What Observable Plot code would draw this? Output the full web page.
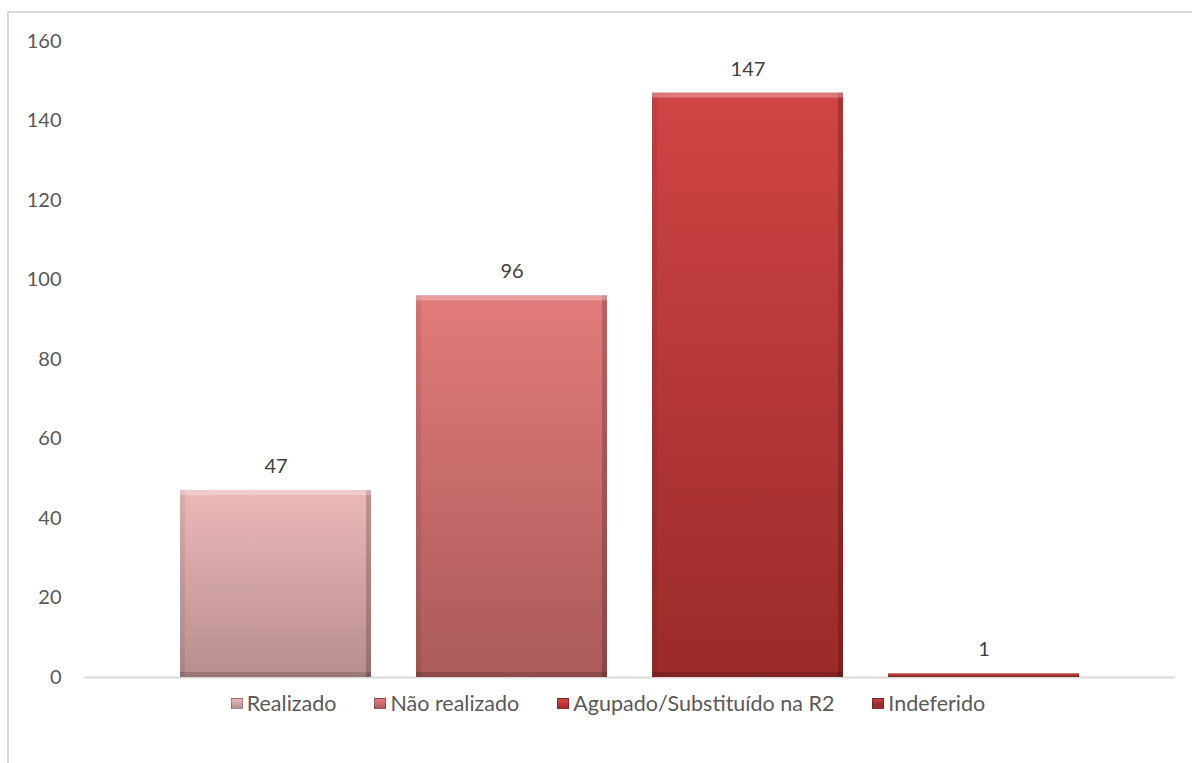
<!DOCTYPE html>
<html>
<head>
<meta charset="utf-8">
<script src="https://cdn.jsdelivr.net/npm/d3@7"></script>
<script src="https://cdn.jsdelivr.net/npm/@observablehq/plot@0.6"></script>
<style>
  html, body { margin: 0; padding: 0; background: #ffffff; }
  body { width: 1192px; height: 763px; overflow: hidden; position: relative; font-family: Lato, "Open Sans", sans-serif; }
  #frame { position: absolute; left: 7px; top: 11px; width: 1400px; height: 1000px; border: 2px solid #d9d9d9; box-sizing: border-box; pointer-events: none; }
  #chart { position: absolute; left: 0; top: 0; }
  #legend { position: absolute; left: 0; top: 689px; width: 1216px; display: flex; justify-content: center; align-items: center; gap: 38px; font-size: 21.5px; color: #595959; line-height: 28px; }
  .item { display: flex; align-items: center; gap: 4px; white-space: nowrap; }
  .sw { width: 12px; height: 11px; box-sizing: border-box; border: 1px solid rgba(0,0,0,0.25); }
</style>
</head>
<body>
<div id="frame"></div>
<div id="chart"></div>
<div id="legend"></div>
<script>
// ---- data ----
const categories = ["Realizado", "Não realizado", "Agupado/Substituído na R2", "Indeferido"];
const values = [47, 96, 147, 1];
const yTicks = [0, 20, 40, 60, 80, 100, 120, 140, 160];

// ---- styles ----
const gradTop = ["#ecb8b8", "#e27b7b", "#d04444", "#c04545"];
const gradBottom = ["#b98e8e", "#ab5a5a", "#9b2a2a", "#9a2d2d"];
const swatchColor = ["#c9a0a0", "#c46a6a", "#c03333", "#9c2b2b"];

const data = categories.map((c, i) => ({category: c, value: values[i], fill: `url(#grad${i})`}));

const svg = Plot.plot({
  width: 1192,
  height: 690,
  marginLeft: 84,
  marginRight: 17,
  marginTop: 41,
  marginBottom: 13,
  x: {domain: categories, range: [155.9, 1102.9], paddingInner: 0.189, paddingOuter: 0.0945, axis: null},
  y: {domain: [0, 160], ticks: yTicks, tickSize: 0, tickPadding: 23, label: null, tickFormat: d => String(d)},
  color: {type: "identity"},
  style: {fontFamily: "Lato, 'Open Sans', sans-serif", fontSize: "20px", color: "#595959", background: "transparent", overflow: "visible"},
  marks: [
    Plot.ruleY([0], {stroke: "#d9d9d9", strokeWidth: 2}),
    Plot.barY(data, {x: "category", y: "value", fill: "fill"}),
    Plot.text(data, {x: "category", y: "value", text: d => String(d.value), dy: -24, fill: "#404040", fontSize: 20})
  ]
});

// gradient + bevel defs
const s = d3.select(svg);
const defs = s.insert("defs", ":first-child");
gradTop.forEach((c, i) => {
  const g = defs.append("linearGradient").attr("id", `grad${i}`).attr("x1", 0).attr("y1", 0).attr("x2", 0).attr("y2", 1);
  g.append("stop").attr("offset", "0%").attr("stop-color", c);
  g.append("stop").attr("offset", "100%").attr("stop-color", gradBottom[i]);
});
function bevel(id, w) {
  const f = defs.append("filter").attr("id", id).attr("x", "-5%").attr("y", "-50%").attr("width", "110%").attr("height", "200%")
    .attr("color-interpolation-filters", "sRGB");
  const edges = [
    ["T", 0, w, "#ffffff", 0.28],
    ["B", 0, -w, "#000000", 0.16],
    ["L", w, 0, "#000000", 0.07],
    ["R", -w, 0, "#000000", 0.2]
  ];
  edges.forEach(([n, dx, dy, col, op]) => {
    f.append("feOffset").attr("in", "SourceAlpha").attr("dx", dx).attr("dy", dy).attr("result", "o" + n);
    f.append("feComposite").attr("in", "SourceAlpha").attr("in2", "o" + n).attr("operator", "out").attr("result", "e" + n);
    f.append("feFlood").attr("flood-color", col).attr("flood-opacity", op).attr("result", "c" + n);
    f.append("feComposite").attr("in", "c" + n).attr("in2", "e" + n).attr("operator", "in").attr("result", "h" + n);
  });
  const m = f.append("feMerge");
  m.append("feMergeNode").attr("in", "SourceGraphic");
  ["L", "R", "B", "T"].forEach(n => m.append("feMergeNode").attr("in", "h" + n));
}
bevel("bevel", 5);
bevel("bevelSmall", 1);
s.selectAll("g[aria-label=bar] rect").each(function(_, i) {
  d3.select(this).attr("filter", values[i] < 5 ? "url(#bevelSmall)" : "url(#bevel)");
});

document.getElementById("chart").appendChild(svg);

// legend
const legend = d3.select("#legend");
categories.forEach((c, i) => {
  const it = legend.append("div").attr("class", "item");
  it.append("div").attr("class", "sw")
    .style("background", `linear-gradient(to bottom, ${gradTop[i]}, ${swatchColor[i]} 60%, ${gradBottom[i]})`);
  it.append("span").text(c);
});
</script>
</body>
</html>
